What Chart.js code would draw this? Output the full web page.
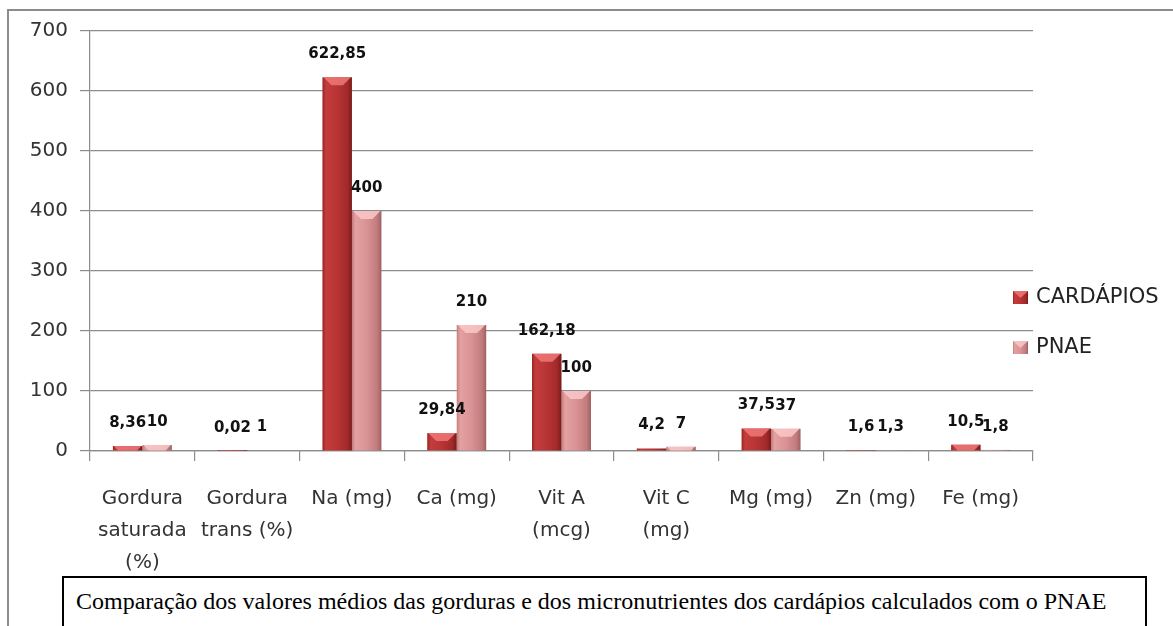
<!DOCTYPE html>
<html>
<head>
<meta charset="utf-8">
<script src="https://cdn.jsdelivr.net/npm/chart.js@4.4.1/dist/chart.umd.min.js"></script>
<style>
  html, body { margin: 0; padding: 0; background: #fff; width: 1173px; height: 626px; overflow: hidden; }
  #frame { position: absolute; left: 7px; top: 9px; width: 1300px; height: 800px; border: 2px solid #8c8c8c; box-sizing: border-box; }
  #c { position: absolute; left: 0; top: 0; }
  #caption { position: absolute; left: 62px; top: 576px; width: 1085px; height: 80px; border: 2px solid #000; box-sizing: border-box;
    font-family: "Liberation Serif", "Times New Roman", serif; font-size: 24px; color: #000; padding: 9px 0 0 12px; line-height: 28px; white-space: nowrap; background: #fff; }
</style>
</head>
<body>
<div id="frame"></div>
<canvas id="c" width="1173" height="626"></canvas>
<div id="caption">Comparação dos valores médios das gorduras e dos micronutrientes dos cardápios calculados com o PNAE</div>
<script>
const categories = [
  ["Gordura", "saturada", "(%)"],
  ["Gordura", "trans (%)"],
  "Na (mg)",
  "Ca (mg)",
  ["Vit A", "(mcg)"],
  ["Vit C", "(mg)"],
  "Mg (mg)",
  "Zn (mg)",
  "Fe (mg)"
];
const cardapios = [8.36, 0.02, 622.85, 29.84, 162.18, 4.2, 37.5, 1.6, 10.5];
const pnae = [10, 1, 400, 210, 100, 7, 37, 1.3, 1.8];
const seriesNames = ["CARDÁPIOS", "PNAE"];
const yTicks = [0, 100, 200, 300, 400, 500, 600, 700];

const CAT_PCT = 0.563;
const FONT = "'DejaVu Sans', sans-serif";

const palettes = [
  [[0, '#9a2424'], [0.12, '#c43c3c'], [0.5, '#b83434'], [0.85, '#a12a2a'], [1, '#7a1a1a']],
  [[0, '#c47c7d'], [0.12, '#e4a1a2'], [0.5, '#d99394'], [0.85, '#c27c7d'], [1, '#a06061']]
];
const bevel = ['rgba(240,120,120,0.85)', 'rgba(250,200,200,0.85)'];
const flat = ['#b83434', '#d99394'];

function makeGrad(ctx2d, x0, x1, pal) {
  const g = ctx2d.createLinearGradient(x0, 0, x1, 0);
  pal.forEach(s => g.addColorStop(s[0], s[1]));
  return g;
}

function barFill(dsIndex) {
  return function (ctx) {
    const chart = ctx.chart;
    if (!chart.chartArea || ctx.type !== 'data') return flat[dsIndex];
    const xs = chart.scales.x;
    const catW = xs.width / categories.length;
    const bw = catW * CAT_PCT / 2;
    const c = xs.getPixelForValue(ctx.dataIndex);
    const x0 = dsIndex === 0 ? c - bw : c;
    return makeGrad(chart.ctx, x0, x0 + bw, palettes[dsIndex]);
  };
}

const fmt = v => String(v).replace('.', ',');

const bevelPlugin = {
  id: 'bevel',
  afterDatasetsDraw(chart) {
    const ctx = chart.ctx;
    ctx.save();
    chart.data.datasets.forEach((ds, di) => {
      chart.getDatasetMeta(di).data.forEach(el => {
        const h = el.base - el.y;
        if (h < 2) return;
        const d = Math.min(8, h);
        const l = el.x - el.width / 2, r = el.x + el.width / 2;
        ctx.fillStyle = bevel[di];
        ctx.beginPath();
        ctx.moveTo(l + 1, el.y);
        ctx.lineTo(r - 1, el.y);
        ctx.lineTo(r - 1 - d, el.y + d);
        ctx.lineTo(l + 1 + d, el.y + d);
        ctx.closePath();
        ctx.fill();
      });
    });
    ctx.restore();
  }
};

const labelsPlugin = {
  id: 'valueLabels',
  afterDatasetsDraw(chart) {
    const ctx = chart.ctx;
    ctx.save();
    ctx.font = "bold 15px " + FONT;
    ctx.fillStyle = '#111';
    ctx.textAlign = 'center';
    ctx.textBaseline = 'middle';
    chart.data.datasets.forEach((ds, di) => {
      const meta = chart.getDatasetMeta(di);
      meta.data.forEach((el, i) => {
        ctx.fillText(fmt(ds.data[i]), el.x, el.y - 23);
      });
    });
    ctx.restore();
  }
};

const legendPlugin = {
  id: 'sideLegend',
  afterDraw(chart) {
    const ctx = chart.ctx;
    const x = chart.chartArea.right - 20;
    const rows = [298, 348];
    ctx.save();
    chart.data.datasets.forEach((ds, di) => {
      const cy = rows[di];
      ctx.fillStyle = makeGrad(ctx, x, x + 15, palettes[di]);
      ctx.fillRect(x, cy - 7, 15, 13);
      ctx.fillStyle = bevel[di];
      ctx.beginPath();
      ctx.moveTo(x, cy - 7); ctx.lineTo(x + 15, cy - 7); ctx.lineTo(x + 7.5, cy); ctx.closePath();
      ctx.fill();
      ctx.font = "21px " + FONT;
      ctx.fillStyle = '#222';
      ctx.textAlign = 'left';
      ctx.textBaseline = 'middle';
      ctx.fillText(ds.label, x + 23, cy);
    });
    ctx.restore();
  }
};

new Chart(document.getElementById('c'), {
  type: 'bar',
  data: {
    labels: categories,
    datasets: [
      { label: seriesNames[0], data: cardapios, backgroundColor: barFill(0) },
      { label: seriesNames[1], data: pnae, backgroundColor: barFill(1) }
    ]
  },
  options: {
    responsive: false,
    animation: false,
    devicePixelRatio: 1,
    layout: { padding: { left: 0, top: 31, right: 140, bottom: 0 } },
    datasets: { bar: { barPercentage: 1, categoryPercentage: CAT_PCT, borderWidth: 0 } },
    plugins: { legend: { display: false }, tooltip: { enabled: false } },
    scales: {
      y: {
        min: 0, max: 700,
        afterBuildTicks(s) { s.ticks = yTicks.map(v => ({ value: v })); },
        afterFit(s) { s.width = 90; },
        ticks: { font: { family: FONT, size: 20 }, color: '#333', padding: 12 },
        grid: { color: '#8c8c8c', lineWidth: 1.2, tickLength: 10 },
        border: { color: '#8c8c8c', width: 1.2 }
      },
      x: {
        offset: true,
        afterFit(s) { s.height = 175; },
        ticks: { font: { family: FONT, size: 20, lineHeight: 1.6 }, color: '#333', padding: 22, maxRotation: 0, autoSkip: false },
        grid: { drawOnChartArea: false, color: '#8c8c8c', lineWidth: 1.2, tickLength: 10, offset: true },
        border: { color: '#8c8c8c', width: 1.2 }
      }
    }
  },
  plugins: [bevelPlugin, labelsPlugin, legendPlugin]
});
</script>
</body>
</html>
